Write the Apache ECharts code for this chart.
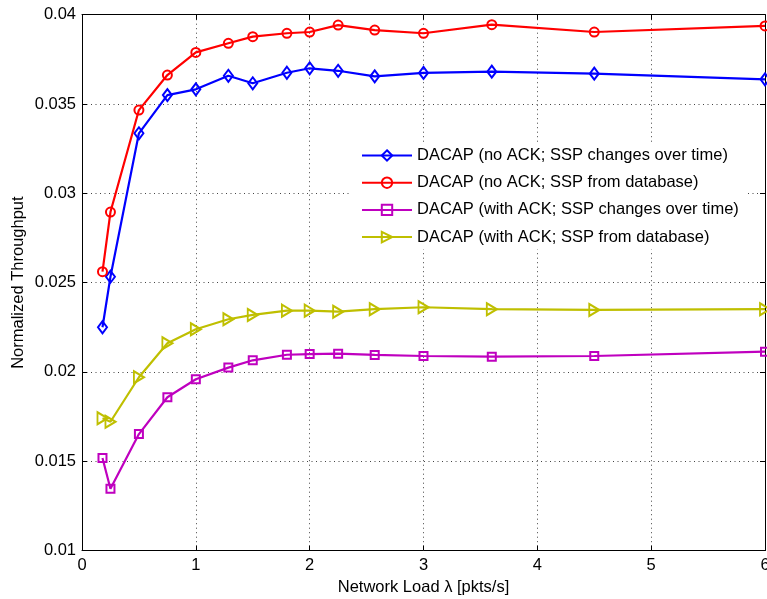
<!DOCTYPE html>
<html>
<head>
<meta charset="utf-8">
<script src="https://cdn.jsdelivr.net/npm/echarts@6/dist/echarts.min.js"></script>
<style>html,body{margin:0;padding:0;background:#fff}#c{width:767px;height:599px}</style>
</head>
<body>
<div id="c"></div>
<script>
const xValues = [0.18, 0.25, 0.5, 0.75, 1, 1.2857, 1.5, 1.8, 2, 2.25, 2.5714, 3, 3.6, 4.5, 6];
const seriesNames = [
  'DACAP (no ACK; SSP changes over time)',
  'DACAP (no ACK; SSP from database)',
  'DACAP (with ACK; SSP changes over time)',
  'DACAP (with ACK; SSP from database)'
];
const noAckChanges = [0.02250, 0.02533, 0.03336, 0.03550, 0.03582, 0.03658, 0.03616, 0.03675, 0.03700, 0.03686, 0.03655, 0.03674, 0.03681, 0.03670, 0.03638];
const noAckDatabase = [0.02561, 0.02895, 0.03466, 0.03662, 0.03789, 0.03840, 0.03877, 0.03896, 0.03903, 0.03942, 0.03914, 0.03896, 0.03944, 0.03903, 0.03937];
const withAckChanges = [0.01518, 0.01346, 0.01652, 0.01858, 0.01959, 0.02024, 0.02065, 0.02096, 0.02100, 0.02102, 0.02095, 0.02089, 0.02085, 0.02089, 0.02113];
const withAckDatabase = [0.01740, 0.01721, 0.01970, 0.02160, 0.02239, 0.02295, 0.02319, 0.02343, 0.02343, 0.02337, 0.02351, 0.02362, 0.02351, 0.02347, 0.02351];
const xTicks = [0, 1, 2, 3, 4, 5, 6];
const yTicks = [0.01, 0.015, 0.02, 0.025, 0.03, 0.035, 0.04];

const FONT = 'Liberation Sans, Arial, sans-serif';
const colors = ['#0000ff', '#ff0000', '#bf00bf', '#bfbf00'];
const symbols = ['diamond', 'circle', 'rect', 'path://M0,0 L10,5 L0,10 Z'];
const sizes = [[9, 12], 9, 8, [10, 12]];
const allData = [noAckChanges, noAckDatabase, withAckChanges, withAckDatabase];

const chart = echarts.init(document.getElementById('c'), null, {renderer: 'canvas'});
const gridLine = {show: true, lineStyle: {color: '#444', width: 1, type: [1, 3.5]}};
const axisLine = {show: true, onZero: false, lineStyle: {color: '#000', width: 1}};
const tick = {show: true, inside: true, length: 5, lineStyle: {color: '#000'}};

const option = {
  animation: false,
  backgroundColor: '#fff',
  grid: {left: 82, right: 2, top: 14.7, bottom: 48.5, containLabel: false, outerBoundsMode: 'none'},
  legend: {
    data: seriesNames,
    orient: 'vertical',
    left: 351, top: 143,
    itemWidth: 50, itemHeight: 13,
    itemGap: 10.2,
    backgroundColor: '#fff',
    padding: [4, 8, 4, 10],
    textStyle: {fontFamily: FONT, fontSize: 16.5, color: '#000'}
  },
  xAxis: [{
    type: 'value', min: xTicks[0], max: xTicks[xTicks.length - 1], interval: 1,
    name: 'Network Load λ [pkts/s]', nameLocation: 'middle', nameGap: 28,
    nameTextStyle: {fontFamily: FONT, fontSize: 16.5, color: '#000'},
    axisLine: axisLine, axisTick: tick, splitLine: gridLine,
    axisLabel: {fontFamily: FONT, fontSize: 16.5, color: '#000', margin: 6}
  }, {
    type: 'value', position: 'top', min: xTicks[0], max: xTicks[xTicks.length - 1], interval: 1,
    axisLine: axisLine, axisTick: tick, splitLine: {show: false}, axisLabel: {show: false}
  }],
  yAxis: [{
    type: 'value', min: yTicks[0], max: yTicks[yTicks.length - 1], interval: 0.005,
    name: 'Normalized Throughput', nameLocation: 'middle', nameGap: 55, nameMoveOverlap: false,
    nameTextStyle: {fontFamily: FONT, fontSize: 16.5, color: '#000'},
    axisLine: axisLine, axisTick: tick, splitLine: gridLine,
    axisLabel: {fontFamily: FONT, fontSize: 16.5, color: '#000', margin: 6,
      formatter: v => String(+v.toFixed(3))}
  }, {
    type: 'value', position: 'right', min: yTicks[0], max: yTicks[yTicks.length - 1], interval: 0.005,
    axisLine: axisLine, axisTick: tick, splitLine: {show: false}, axisLabel: {show: false}
  }],
  series: seriesNames.map((name, i) => ({
    name: name,
    type: 'line',
    data: xValues.map((x, j) => [x, allData[i][j]]),
    symbol: symbols[i],
    symbolSize: sizes[i],
    showAllSymbol: true,
    lineStyle: {color: colors[i], width: 2.2},
    itemStyle: {color: 'rgba(255,255,255,0)', borderColor: colors[i], borderWidth: 2},
    emphasis: {disabled: true},
    z: 3 + i
  }))
};
chart.setOption(option);
</script>
</body>
</html>
